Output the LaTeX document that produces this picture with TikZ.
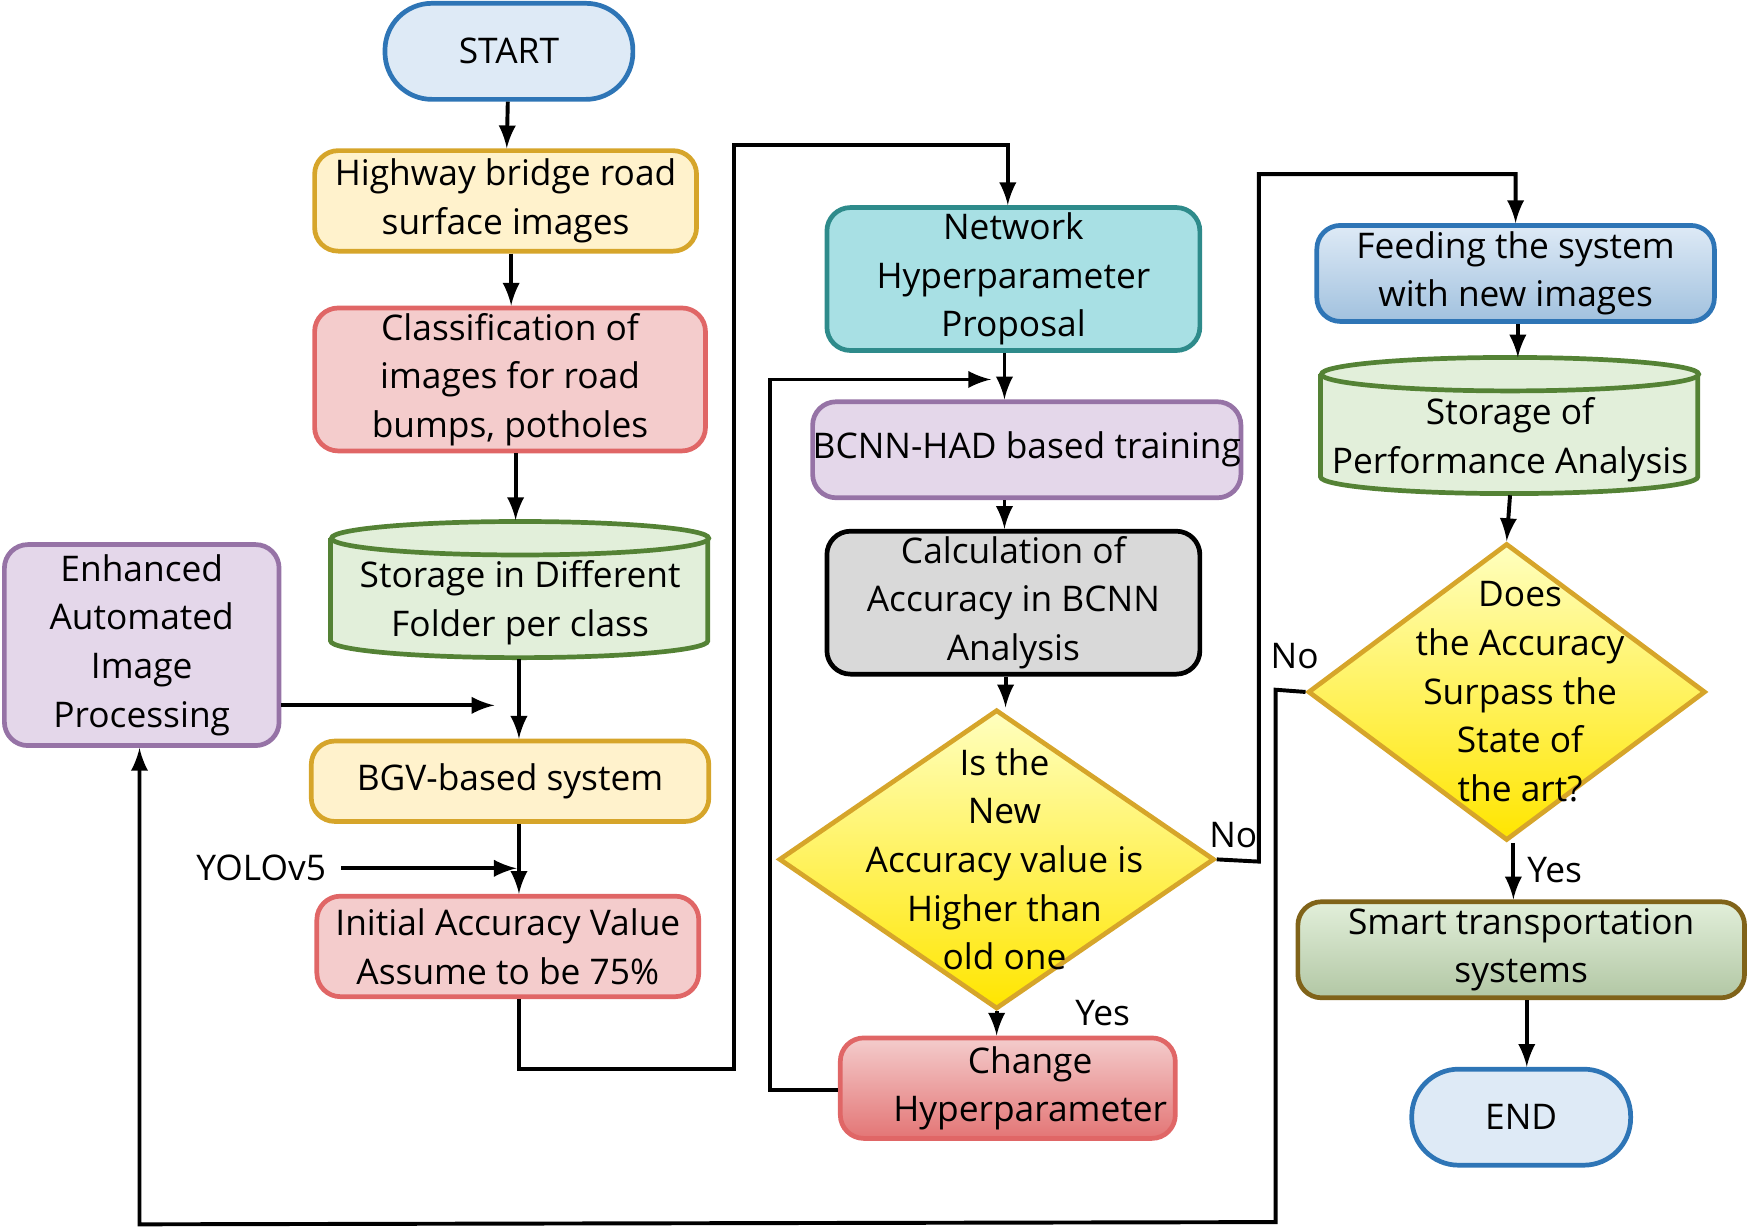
\documentclass[tikz,border=0pt]{standalone}
\usepackage{fontspec}
\setmainfont{Open Sans}
\usetikzlibrary{shapes.geometric,positioning}
\definecolor{startfill}{HTML}{DEEAF6}
\definecolor{startline}{HTML}{2E75B6}
\definecolor{yelfill}{HTML}{FFF2CC}
\definecolor{yelline}{HTML}{D6A52A}
\definecolor{redfill}{HTML}{F4CCCC}
\definecolor{redline}{HTML}{E06666}
\definecolor{grnfill}{HTML}{E2EFDA}
\definecolor{grnline}{HTML}{548235}
\definecolor{purfill}{HTML}{E4D7EA}
\definecolor{purline}{HTML}{9673A6}
\definecolor{tealfill}{HTML}{A8E0E4}
\definecolor{tealline}{HTML}{2E8B8B}
% drum outline round a named node (width 338, height 122)
\newcommand{\drum}[1]{%
	\draw[cylline] (#1.north west) ++(0,15) -- ++(0,92) arc[start angle=180, end angle=0, x radius=169, y radius=15] -- ++(0,-92);
	\draw[cylline] (#1.north) ++(0,15) ellipse[x radius=169, y radius=15];}

\begin{document}
\begin{tikzpicture}[x=0.01cm,y=-0.01cm,
	txt/.style={align=center, inner sep=0pt, font=\fontsize{9}{12.4}\selectfont},
	box/.style={txt, draw, line width=1.2pt, rounded corners=6pt},
	store/.style={txt, minimum width=3.38cm, minimum height=1.22cm},
	cylline/.style={draw=grnline, fill=grnfill, line width=1.2pt},
	choice/.style={diamond, draw=yelline, line width=1.2pt, top color=yellow!25, bottom color=orange!20!yellow,
		inner sep=0pt},
	term/.style={box, rounded corners=0.42cm, draw=startline, fill=startfill},
	arr/.style={-latex, line width=1pt},
	lbl/.style={txt}]
	\useasboundingbox (0,0) rectangle (1568,1100);

	\node[term, minimum width=2.22cm, minimum height=0.86cm] (start) at (456,46) {START};
	\node[box, draw=yelline, fill=yelfill, minimum width=3.42cm, minimum height=0.9cm] (roadimg) at (453,180) {Highway bridge road\\surface images};
	\node[box, draw=redline, fill=redfill, minimum width=3.5cm, minimum height=1.28cm] (classify) at (457,340) {Classification of\\images for road\\bumps, potholes};
	\node[store] (folder) at (466,529) {};
	\drum{folder}
	\node[txt] at (466,540) {Storage in Different\\Folder per class};
	\node[box, draw=purline, fill=purfill, minimum width=2.46cm, minimum height=1.8cm] (enhance) at (127,578) {Enhanced\\Automated\\Image\\Processing};
	\node[box, draw=yelline, fill=yelfill, minimum width=3.56cm, minimum height=0.72cm] (bgv) at (457,700) {BGV-based system};
	\node[lbl] (yolo) at (234,778) {YOLOv5};
	\node[box, draw=redline, fill=redfill, minimum width=3.42cm, minimum height=0.9cm] (initacc) at (455,848) {Initial Accuracy Value\\Assume to be 75\%};

	\node[box, draw=tealline, fill=tealfill, minimum width=3.34cm, minimum height=1.28cm] (hyper) at (908,250) {Network\\Hyperparameter\\Proposal};
	\node[box, draw=purline, fill=purfill, minimum width=3.82cm, minimum height=0.86cm] (train) at (920,403) {BCNN-HAD based training};
	\node[box, draw=black, fill=black!15, minimum width=3.34cm, minimum height=1.28cm] (calc) at (908,540) {Calculation of\\Accuracy in BCNN\\Analysis};
	\node[choice, minimum width=3.9cm, minimum height=2.68cm] (newacc) at (893,770) {};
	\node[txt] at (900,770) {Is the\\New\\Accuracy value is\\Higher than\\old one};
	\node[box, draw=redline, top color=redfill, bottom color=redline!90, minimum width=3cm, minimum height=0.9cm] (change) at (903,975) {\hspace*{0.4cm}Change\\\hspace*{0.4cm}Hyperparameter};

	\node[box, draw=startline, top color=startfill, bottom color=startline!45, minimum width=3.56cm, minimum height=0.86cm] (feed) at (1358,245) {Feeding the system\\with new images};
	\node[store] (perf) at (1353,382) {};
	\drum{perf}
	\node[txt] at (1353,394) {Storage of\\Performance Analysis};
	\node[choice, minimum width=3.56cm, minimum height=2.66cm] (surpass) at (1350,620) {};
	\node[txt] at (1362,620) {Does\\the Accuracy\\Surpass the\\State of\\the art?};
	\node[box, draw=yelline!60!black, top color=grnfill, bottom color=grnline!45, minimum width=4cm, minimum height=0.86cm] (smart) at (1363,851) {Smart transportation\\systems};
	\node[term, minimum width=1.96cm, minimum height=0.86cm] (finish) at (1363,1001) {END};

	\node[lbl] (yes1) at (988,908) {Yes};
	\node[lbl] (no1) at (1105,748) {No};
	\node[lbl] (no2) at (1160,588) {No};
	\node[lbl] (yes2) at (1393,780) {Yes};

	\coordinate (enhend) at (443,632);
	\coordinate (chgend) at (888,340);

	\draw[arr] (start) -- (roadimg);
	\draw[arr] (roadimg.south -| 458,0) -- (classify.north -| 458,0);
	\draw[arr] (classify.south -| 462,0) -- (462,466);
	\draw[arr] (folder.south -| 465,0) -- (bgv.north -| 465,0);
	\draw[arr] (enhance.east |- enhend) -- (enhend);
	\draw[arr] ([xshift=0.13cm]yolo.east) -- (463,778);
	\draw[arr] (bgv.south -| 465,0) -- (initacc.north -| 465,0);
	\draw[arr] (initacc.south -| 465,0) -- (465,958) -- (658,958) -- (658,130) -- (903,130) -- (hyper.north -| 903,0);
	\draw[arr] (hyper.south -| 900,0) -- (train.north -| 900,0);
	\draw[arr] (train.south -| 900,0) -- (calc.north -| 900,0);
	\draw[arr] (calc.south -| 901,0) -- (newacc.north -| 901,0);
	\draw[arr] (newacc.south) -- (change.north -| newacc.south);
	\draw[arr] (change.west |- 0,977) -- (690,977) -- (690,340) -- (chgend);
	\draw[arr] (newacc.east) -- (1128,772) -- (1128,156) -- (1358,156) -- (feed.north -| 1358,0);
	\draw[arr] (feed.south -| 1360,0) -- (perf.north -| 1360,0);
	\draw[arr] (perf.south -| 1353,0) -- (surpass.north);
	\draw[arr] (surpass.south -| 1356,0) -- (smart.north -| 1356,0);
	\draw[arr] (smart.south -| 1368,0) -- (finish.north -| 1368,0);
	\draw[arr] (surpass.west) -- (1143,618) -- (1143,1095) -- (125,1097) -- (enhance.south -| 125,0);
\end{tikzpicture}
\end{document}
